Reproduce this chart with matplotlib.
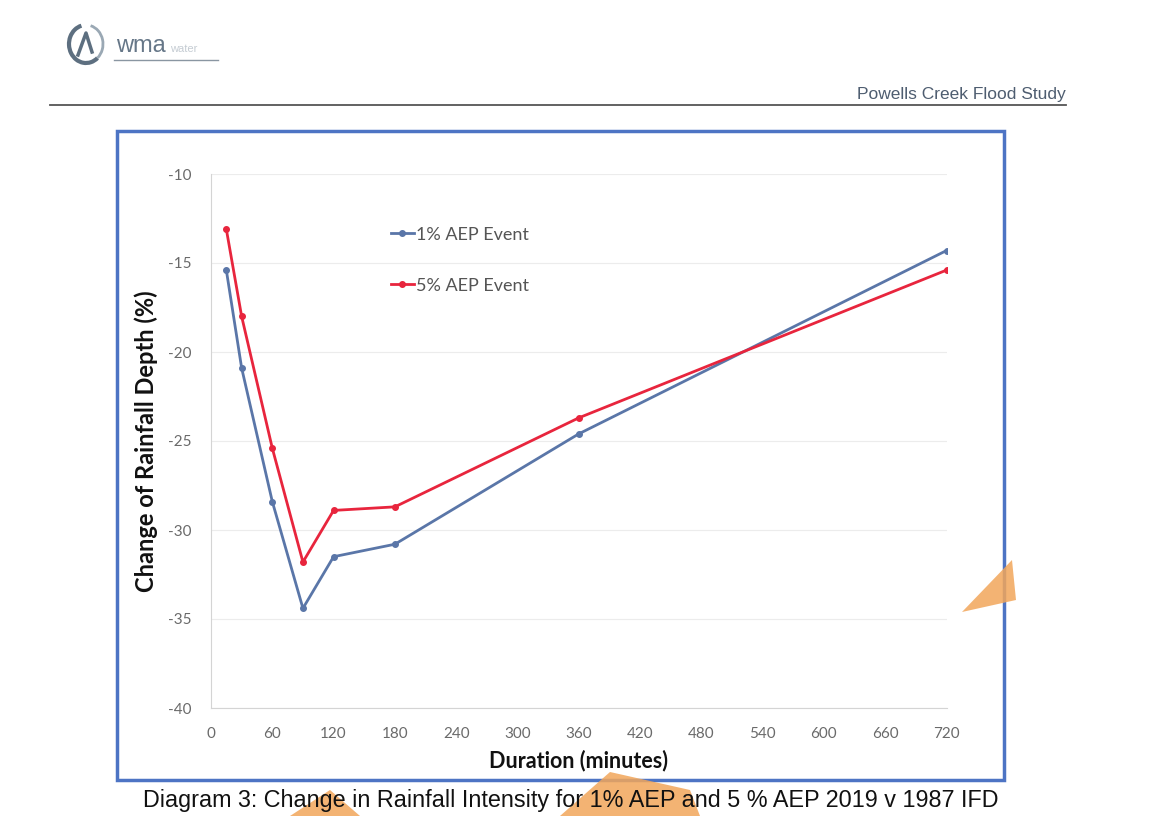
import matplotlib.pyplot as plt
from matplotlib.patches import Rectangle, Arc, Polygon
from matplotlib.lines import Line2D

# storm durations (minutes) and change in rainfall depth (%), 2019 vs 1987 IFD
durations = [15, 30, 60, 90, 120, 180, 360, 720]
aep_1pct = [-15.4, -20.9, -28.4, -34.4, -31.5, -30.8, -24.6, -14.3]
aep_5pct = [-13.1, -18.0, -25.4, -31.8, -28.9, -28.7, -23.7, -15.4]

x_ticks = list(range(0, 721, 60))
y_ticks = [-40, -35, -30, -25, -20, -15, -10]

W, H = 1161, 816
BLUE = '#5a76a8'
RED = '#e8253d'
TICK_GREY = '#6a6a6a'

plt.rcParams['axes.unicode_minus'] = False


def fx(px):
    return px / W


def fy(py):
    return 1 - py / H


fig = plt.figure(figsize=(W / 100, H / 100), dpi=100)
fig.patch.set_facecolor('white')

# report header: logo, rule and study name
fig.add_artist(Arc((fx(86), fy(44)), fx(34), 38 / H, theta1=100, theta2=300,
                   transform=fig.transFigure, color='#5d6f80', lw=3))
fig.add_artist(Arc((fx(86), fy(44)), fx(34), 38 / H, theta1=300, theta2=80,
                   transform=fig.transFigure, color='#9aa8b4', lw=2))
fig.add_artist(Line2D([fx(78), fx(86), fx(92)], [fy(55), fy(33), fy(52)],
                      transform=fig.transFigure, color='#5d6f80', lw=2.5))
fig.text(fx(116), fy(46), 'wma', fontsize=17, color='#667788', family='Liberation Sans',
         va='center', ha='left')
fig.text(fx(170), fy(49), 'water', fontsize=8, color='#c5ccd3', family='Liberation Sans',
         va='center', ha='left')
fig.add_artist(Line2D([fx(114), fx(218)], [fy(60), fy(60)], transform=fig.transFigure,
                      color='#8a96a2', lw=1))
fig.add_artist(Line2D([fx(50), fx(1066)], [fy(105), fy(105)], transform=fig.transFigure,
                      color='#555555', lw=1.3))
fig.text(fx(1066), fy(95), 'Powells Creek Flood Study', fontsize=12.5, color='#4e5d70',
         family='Liberation Sans', ha='right', va='center')

# blue chart frame
fig.add_artist(Rectangle((fx(117), fy(780)), fx(1004 - 117), (780 - 131) / H,
                         transform=fig.transFigure, fill=True, facecolor='white',
                         edgecolor='#4d74c4', lw=2.5, zorder=1))

# orange watermark pieces showing through the page
for pts in ([(962, 612), (1012, 560), (1016, 600)],
            [(560, 816), (610, 772), (690, 790), (700, 816)],
            [(290, 816), (330, 790), (360, 816)]):
    fig.add_artist(Polygon([(fx(a), fy(b)) for a, b in pts], closed=True,
                           transform=fig.transFigure, facecolor='#f2a65a',
                           edgecolor='none', alpha=0.85, zorder=1.5))

ax = fig.add_axes([fx(211), fy(708), fx(946.5 - 211), (708 - 174) / H], zorder=2)
ax.set_facecolor('none')

ax.plot(durations, aep_1pct, color=BLUE, lw=2, marker='o', ms=4, label='1% AEP Event')
ax.plot(durations, aep_5pct, color=RED, lw=2, marker='o', ms=4, label='5% AEP Event')

ax.set_xlim(0, 720)
ax.set_ylim(-40, -10)
ax.set_xticks(x_ticks)
ax.set_yticks(y_ticks)
ax.tick_params(length=0, labelsize=11, colors=TICK_GREY)
ax.tick_params(axis='y', pad=14)
ax.tick_params(axis='x', pad=14)
for lab in ax.get_xticklabels() + ax.get_yticklabels():
    lab.set_family('Lato')

ax.grid(axis='y', color='#ececec', lw=0.8)
for side in ('top', 'right'):
    ax.spines[side].set_visible(False)
for side in ('left', 'bottom'):
    ax.spines[side].set_color('#d4d4d4')

ax.set_xlabel('Duration (minutes)', fontsize=15.5, fontweight='bold', family='Lato',
              color='#111111', labelpad=6)
ax.set_ylabel('Change of Rainfall Depth (%)', fontsize=17, fontweight='bold',
              family='Lato', color='#111111', labelpad=7)

leg = ax.legend(loc='upper left', bbox_to_anchor=(0.222, 0.932), frameon=False,
                handlelength=1.3, handletextpad=0.1, labelspacing=1.95,
                prop={'family': 'Lato', 'size': 13})
for t in leg.get_texts():
    t.set_color('#555555')

fig.text(fx(571), fy(800),
         'Diagram 3: Change in Rainfall Intensity for 1% AEP and 5 % AEP 2019 v 1987 IFD',
         fontsize=16.8, family='Liberation Sans', color='#111111', ha='center', va='center',
         zorder=3)

fig.savefig('out.png', dpi=100)
